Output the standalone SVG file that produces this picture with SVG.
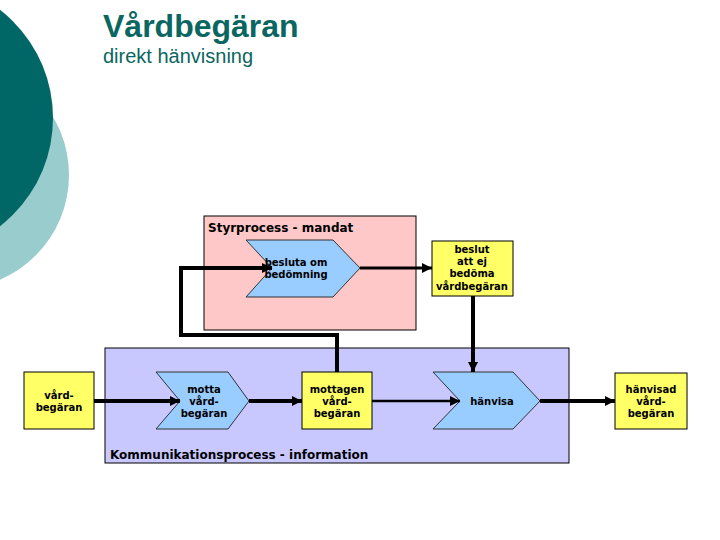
<svg xmlns="http://www.w3.org/2000/svg" width="720" height="540" viewBox="0 0 720 540">
<style>
.t{font-family:"DejaVu Sans",Verdana,sans-serif;font-weight:bold;font-size:10px;fill:#000;text-anchor:middle}
.lbl{font-family:"DejaVu Sans",Verdana,sans-serif;font-weight:bold;font-size:12px;fill:#000}
.box{fill:#ffff66;stroke:#000;stroke-width:1}
.chev{fill:#99ccff;stroke:#333;stroke-width:1}
.ln{fill:none;stroke:#000}
</style>
<defs>
<marker id="ah" markerUnits="userSpaceOnUse" markerWidth="12" markerHeight="12" refX="10" refY="5" orient="auto">
<path d="M0,0 L10,5 L0,10 z" fill="#000"/>
</marker>
</defs>
<rect width="720" height="540" fill="#fff"/>
<circle cx="-45" cy="175" r="114" fill="#99cccc"/>
<circle cx="-84" cy="118" r="137" fill="#006666"/>
<text x="103" y="37" font-family="Liberation Sans,Arial,sans-serif" font-weight="bold" font-size="32" fill="#0a6660">Vårdbegäran</text>
<text x="103" y="63" font-family="Liberation Sans,Arial,sans-serif" font-size="20" fill="#0a6660">direkt hänvisning</text>

<g id="styrprocess">
<rect x="204" y="216" width="212" height="114" fill="#ffc8c8" stroke="#000" stroke-width="1"/>
<text class="lbl" x="208" y="232">Styrprocess - mandat</text>
</g>
<g id="kommunikationsprocess">
<rect x="105" y="348" width="464" height="115" fill="#c8c8ff" stroke="#000" stroke-width="1"/>
<text class="lbl" x="110" y="459">Kommunikationsprocess - information</text>
</g>

<g id="besluta">
<polygon class="chev" points="246,240 333,240 360,268 333,297 246,297 272,268"/>
<text class="t" x="296" y="266">besluta om</text>
<text class="t" x="296" y="278">bedömning</text>
</g>
<g id="beslut">
<rect class="box" x="432" y="241" width="81" height="55"/>
<text class="t" x="472" y="253">beslut</text>
<text class="t" x="472" y="265">att ej</text>
<text class="t" x="472" y="277">bedöma</text>
<text class="t" x="472" y="290">vårdbegäran</text>
</g>
<g id="vardbegaran">
<rect class="box" x="24" y="372" width="70" height="57"/>
<text class="t" x="59" y="399">vård-</text>
<text class="t" x="59" y="411">begäran</text>
</g>
<g id="motta">
<polygon class="chev" points="156,372 228,372 249,401 228,429 156,429 180,401"/>
<text class="t" x="204" y="393">motta</text>
<text class="t" x="204" y="405">vård-</text>
<text class="t" x="204" y="417">begäran</text>
</g>
<g id="mottagen">
<rect class="box" x="302" y="372" width="70" height="57"/>
<text class="t" x="337" y="393">mottagen</text>
<text class="t" x="337" y="405">vård-</text>
<text class="t" x="337" y="417">begäran</text>
</g>
<g id="hanvisa">
<polygon class="chev" points="433,372 513,372 540,401 513,429 433,429 460,401"/>
<text class="t" x="492" y="405">hänvisa</text>
</g>
<g id="hanvisad">
<rect class="box" x="615" y="373" width="72" height="56"/>
<text class="t" x="651" y="393">hänvisad</text>
<text class="t" x="651" y="405">vård-</text>
<text class="t" x="651" y="417">begäran</text>
</g>

<g id="connectors">
<path class="ln" stroke-width="4" d="M94,401 L180,401" marker-end="url(#ah)"/>
<path class="ln" stroke-width="4" d="M249,401 L302,401" marker-end="url(#ah)"/>
<path class="ln" stroke-width="2.5" d="M372,401 L460,401" marker-end="url(#ah)"/>
<path class="ln" stroke-width="4" d="M540,401 L615,401" marker-end="url(#ah)"/>
<path class="ln" stroke-width="4" d="M337,372 L337,335 L181,335 L181,268 L272,268" marker-end="url(#ah)"/>
<path class="ln" stroke-width="3" d="M360,268 L432,268" marker-end="url(#ah)"/>
<path class="ln" stroke-width="4" d="M473,296 L473,372" marker-end="url(#ah)"/>
</g>
</svg>
